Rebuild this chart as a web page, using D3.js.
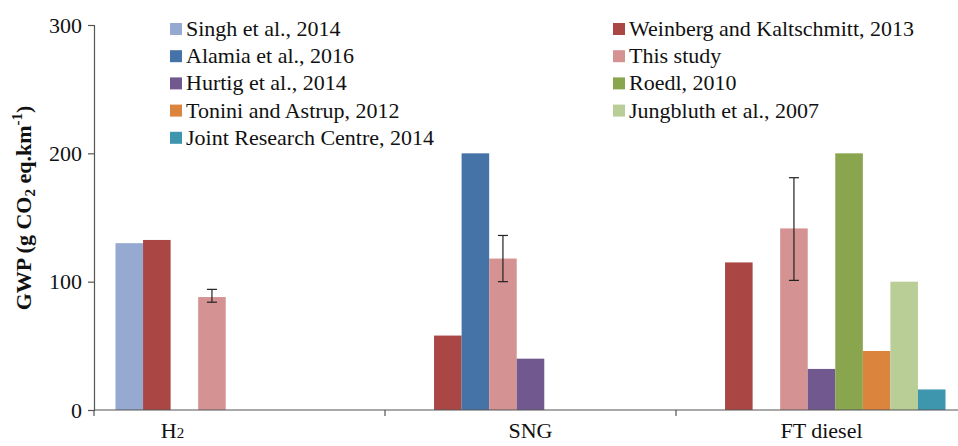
<!DOCTYPE html>
<html>
<head>
<meta charset="utf-8">
<script src="https://cdn.jsdelivr.net/npm/d3@7"></script>
<style>
  html, body { margin: 0; padding: 0; background: #fff; }
  svg { display: block; }
</style>
</head>
<body>
<svg id="chart" width="958" height="446"></svg>
<script>
// ---- data ----
const categories = ["H2", "SNG", "FT diesel"];
const seriesNames = [
  "Singh et al., 2014",
  "Weinberg and Kaltschmitt, 2013",
  "Alamia et al., 2016",
  "This study",
  "Hurtig et al., 2014",
  "Roedl, 2010",
  "Tonini and Astrup, 2012",
  "Jungbluth et al., 2007",
  "Joint Research Centre, 2014"
];
const seriesColors = ["#95A9D1", "#AA4643", "#4572A7", "#D59292", "#71588F", "#89A54E", "#DB843D", "#B9CE96", "#3D96AE"];
// values per series, per category (null = no bar)
const singh     = [130, null, null];
const weinberg  = [132.5, 58, 115];
const alamia    = [null, 200, null];
const thisStudy = [88, 118, 141.5];
const hurtig    = [null, 40, 32];
const roedl     = [null, null, 200];
const tonini    = [null, null, 46];
const jungbluth = [null, null, 100];
const jrc       = [null, null, 16];
// error bar ranges for "This study"
const errLow  = [84, 100, 101];
const errHigh = [94, 136, 181];
const yTicks = [0, 100, 200, 300];
// legend layout: left column / right column series indices
const legendLeft = [0, 2, 4, 6, 8];
const legendRight = [1, 3, 5, 7];

const seriesValues = [singh, weinberg, alamia, thisStudy, hurtig, roedl, tonini, jungbluth, jrc];

// ---- font warm-up ----
const FONT = "'Liberation Serif', Tinos, serif";
(function () {
  const c = document.createElement("canvas").getContext("2d");
  ["22px", "bold 22px", "15px", "bold 15px"].forEach(f => {
    c.font = f + " 'Liberation Serif', monospace";
    c.measureText("Singh et al., 2014 GWP");
  });
})();

// ---- drawing ----
const svg = d3.select("#chart");
const x0 = 94, yBase = 410, yTop = 25;
const bandW = 291;

const x = d3.scaleBand().domain(categories).range([x0, x0 + bandW * categories.length]).paddingInner(0).paddingOuter(0);
const xs = d3.scaleBand().domain(d3.range(seriesNames.length)).range([0, x.bandwidth()]).paddingOuter(0.78).paddingInner(0);
const y = d3.scaleLinear().domain([0, 300]).range([yBase, yTop]);

// bars
const barData = [];
seriesValues.forEach((vals, s) => {
  vals.forEach((v, c) => { if (v != null) barData.push({ s, c, v }); });
});
svg.append("g").selectAll("rect").data(barData).join("rect")
  .attr("x", d => x(categories[d.c]) + xs(d.s))
  .attr("y", d => y(d.v))
  .attr("width", xs.bandwidth())
  .attr("height", d => y(0) - y(d.v))
  .attr("fill", d => seriesColors[d.s]);

// error bars
const eg = svg.append("g").attr("stroke", "#222").attr("stroke-width", 1.2);
categories.forEach((c, i) => {
  const cx = x(c) + xs(3) + xs.bandwidth() / 2;
  eg.append("line").attr("x1", cx).attr("x2", cx).attr("y1", y(errLow[i])).attr("y2", y(errHigh[i]));
  eg.append("line").attr("x1", cx - 5).attr("x2", cx + 5).attr("y1", y(errLow[i])).attr("y2", y(errLow[i]));
  eg.append("line").attr("x1", cx - 5).attr("x2", cx + 5).attr("y1", y(errHigh[i])).attr("y2", y(errHigh[i]));
});

// y axis
const yAxis = svg.append("g").attr("transform", `translate(${x0},0)`)
  .call(d3.axisLeft(y).tickValues(yTicks).tickSize(6).tickPadding(6));
yAxis.select(".domain").attr("stroke", "#555").attr("stroke-width", 1.2);
yAxis.selectAll(".tick line").attr("stroke", "#555").attr("stroke-width", 1.2);
yAxis.selectAll(".tick text").style("font-family", FONT).style("font-size", "22px").attr("fill", "#111");

// x axis line and ticks
const xg = svg.append("g").attr("stroke", "#555").attr("stroke-width", 1.2);
xg.append("line").attr("x1", x0).attr("x2", 958).attr("y1", yBase).attr("y2", yBase);
categories.forEach(c => {
  xg.append("line").attr("x1", x(c)).attr("x2", x(c)).attr("y1", yBase).attr("y2", yBase + 6);
});

// x labels
categories.forEach((c, i) => {
  const cx = x(c) + x.bandwidth() / 2 + (i === 0 ? -67 : 0);
  const t = svg.append("text").attr("x", cx).attr("y", 438).attr("text-anchor", "middle")
    .style("font-family", FONT).style("font-size", "22px").attr("fill", "#111");
  if (c === "H2") {
    t.append("tspan").text("H");
    t.append("tspan").text("2").style("font-size", "15px");
  } else {
    t.text(c);
  }
});

// y label
const yl = svg.append("text").attr("transform", "translate(31,208) rotate(-90)")
  .attr("text-anchor", "middle").style("font-family", FONT).style("font-size", "22px").style("font-weight", "bold").attr("fill", "#111");
yl.append("tspan").text("GWP (g CO");
yl.append("tspan").text("2").style("font-size", "15px").attr("dy", 4);
yl.append("tspan").text(" eq.km").attr("dy", -4);
yl.append("tspan").text("-1").style("font-size", "15px").attr("dy", -9);
yl.append("tspan").text(")").attr("dy", 9);

// legend
function legendCol(indices, sx) {
  const g = svg.append("g");
  indices.forEach((s, r) => {
    const cy = 29 + r * 27.2;
    g.append("rect").attr("x", sx).attr("y", cy - 6).attr("width", 12).attr("height", 12).attr("fill", seriesColors[s]);
    g.append("text").attr("x", sx + 16).attr("y", cy + 7).style("font-family", FONT).style("font-size", "22px").attr("fill", "#111").text(seriesNames[s]);
  });
}
legendCol(legendLeft, 170);
legendCol(legendRight, 613);
</script>
</body>
</html>
